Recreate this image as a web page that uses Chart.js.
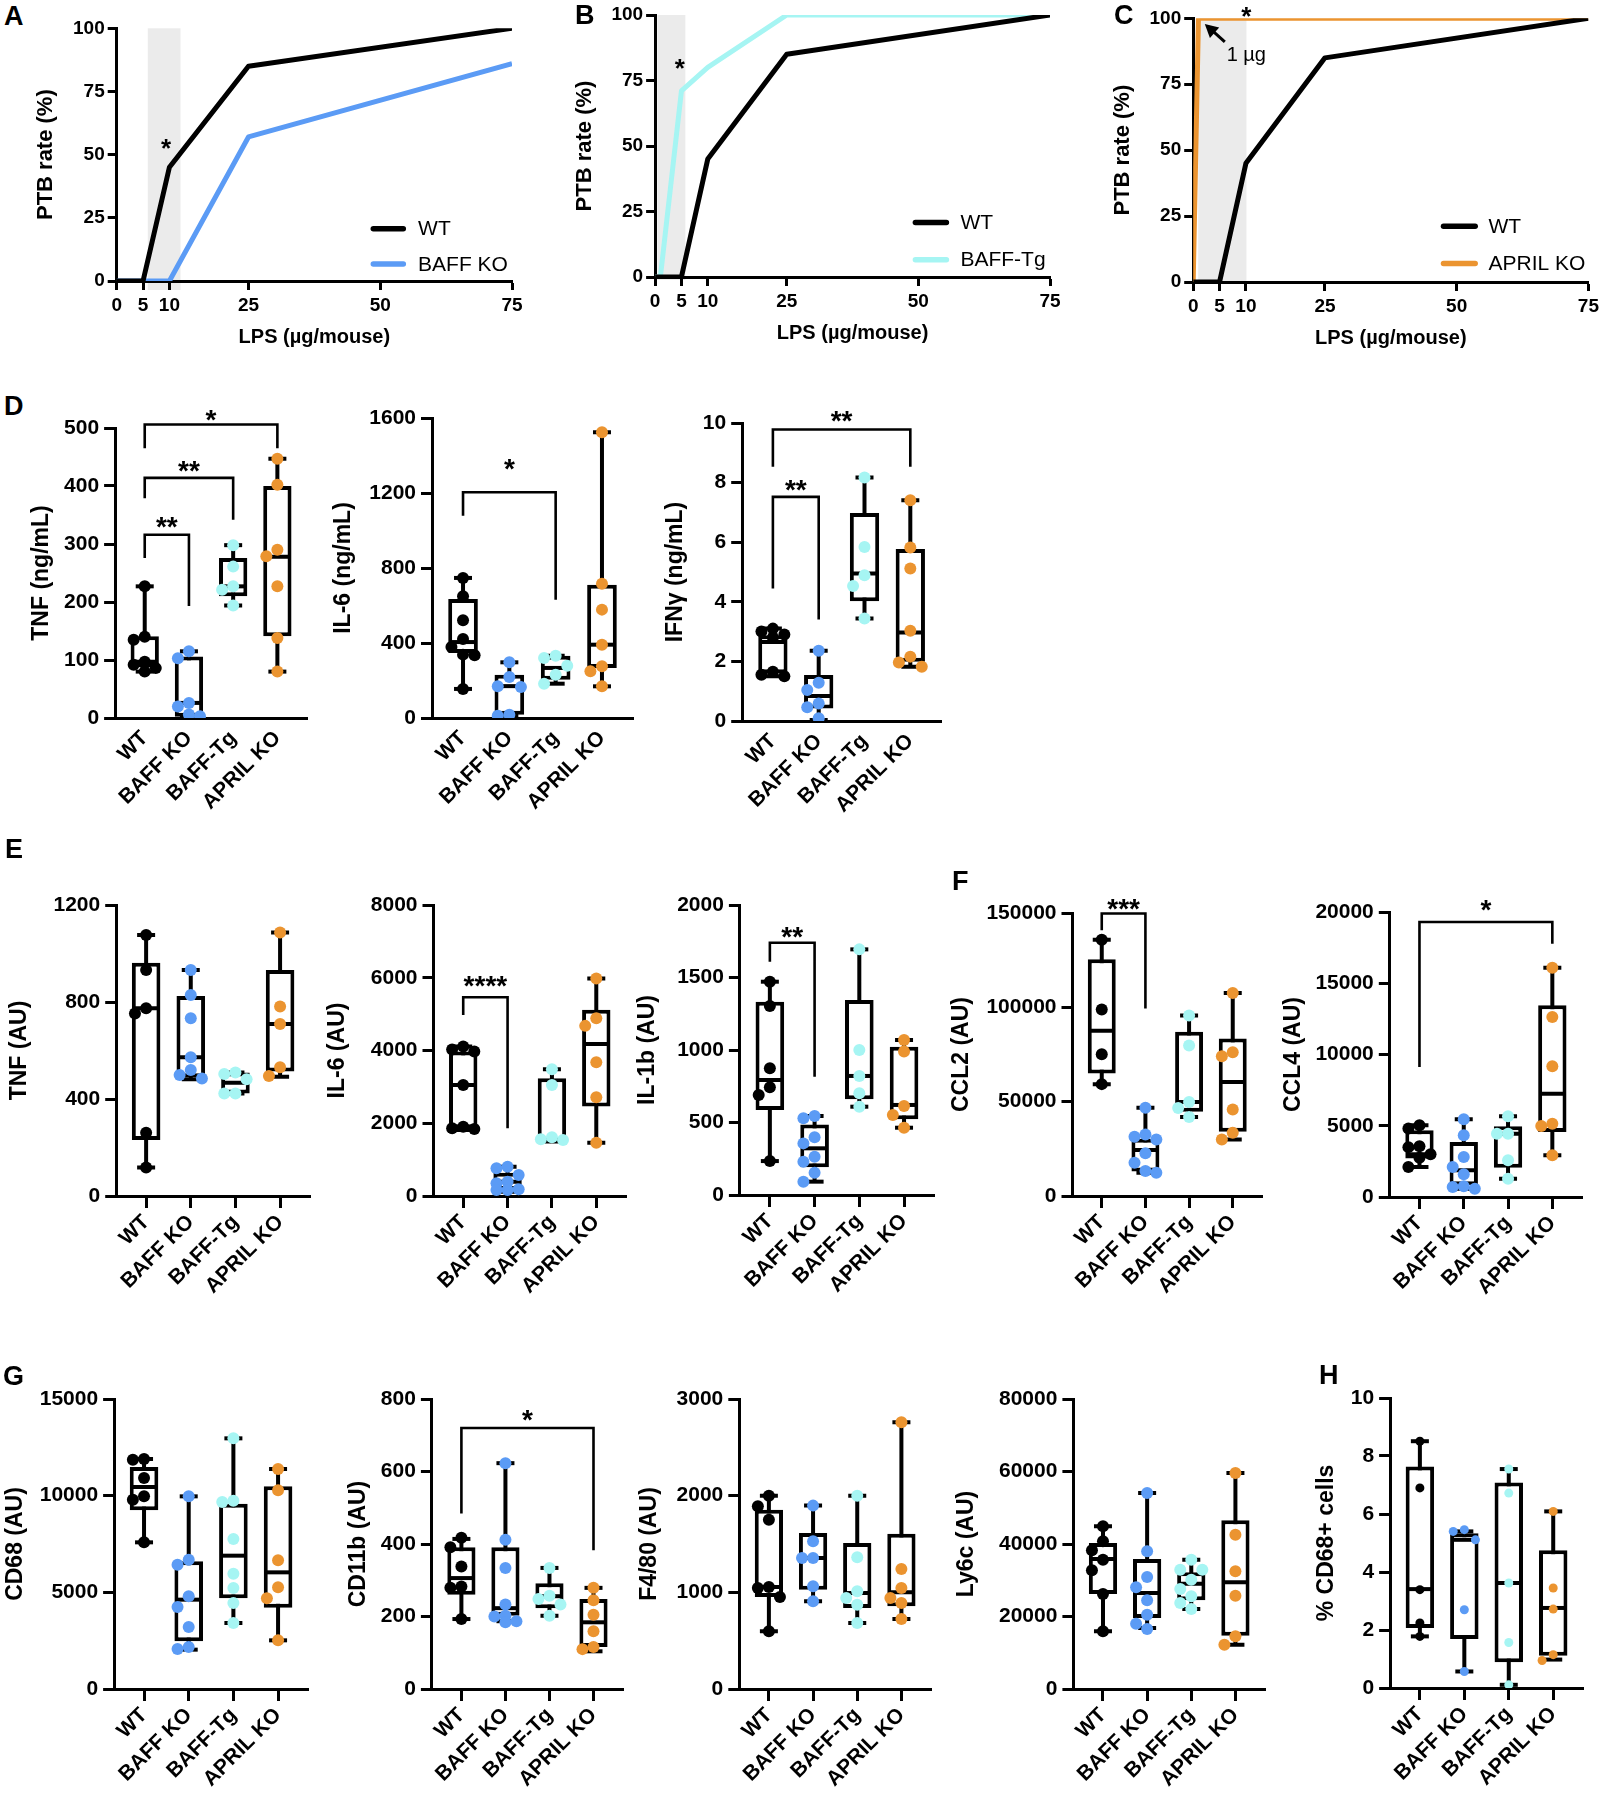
<!DOCTYPE html>
<html><head><meta charset="utf-8">
<script src="https://cdn.jsdelivr.net/npm/chart.js@4.4.1/dist/chart.umd.min.js"></script>
<style>
html,body{margin:0;padding:0;background:#fff;}
#fig{position:relative;width:1603px;height:1800px;background:#fff;overflow:hidden;}
canvas{position:absolute;}
.lt{position:absolute;font:bold 27px 'Liberation Sans',Arial,sans-serif;color:#000;line-height:1;}
</style></head><body><div id="fig"></div>
<script>
// ================= DATA =================
const groups = ['WT', 'BAFF KO', 'BAFF-Tg', 'APRIL KO'];

// Panels A-C: PTB rate (%) vs LPS dose (µg/mouse)
const lpsTicks = [0, 5, 10, 25, 50, 75];
const ptbTicks = [0, 25, 50, 75, 100];
const wtDose = [0, 5, 10, 25, 75];
const wtPTB = [0, 0, 45, 85, 100];
const baffKoDose = [0, 5, 10, 25, 75];
const baffKoPTB = [0, 0, 0, 57, 86];
const baffTgDose = [0, 1, 5, 10, 25, 75];
const baffTgPTB = [0, 0, 71, 80, 100, 100];
const aprilKoDose = [0, 1, 75];
const aprilKoPTB = [0, 100, 100];

// Box plots: [min, q1, median, q3, max] per group, plus individual points
// D
const dTnfBox = [[80, 88, 97, 141, 227], [0, 2, 26, 106, 115], [194, 210, 227, 276, 298], [80, 141, 278, 400, 447]];
const dTnfPts = [[227, 140, 135, 97, 92, 86, 80], [115, 103, 26, 20, 6, 3], [298, 261, 227, 221, 194], [447, 402, 290, 279, 227, 138, 80]];
const dTnfSig = [[0, 3, 506, 465, 465, '*', 526], [0, 2, 414, 379, 342, '**', 438], [0, 1, 316, 276, 193, '**', 341]];

const dIl6Box = [[155, 347, 405, 635, 747], [12, 18, 170, 231, 297], [183, 204, 267, 332, 332], [169, 267, 391, 711, 1524]];
const dIl6Pts = [[747, 650, 521, 421, 379, 338, 335, 155], [297, 219, 169, 165, 18, 12], [332, 320, 279, 231, 183], [1524, 716, 578, 391, 276, 249, 169]];
const dIl6Sig = [[0, 2, 1204, 1079, 631, '*', 1369]];

const dIfnBox = [[1.5, 1.6, 2.65, 2.88, 3.1], [0.03, 0.42, 0.84, 1.54, 2.36], [3.44, 4.02, 4.95, 6.98, 8.17], [1.82, 1.99, 2.97, 5.77, 7.41]];
const dIfnPts = [[3.1, 3.0, 2.9, 2.8, 1.65, 1.55, 1.5], [2.36, 1.28, 1.04, 0.59, 0.46, 0.09], [8.17, 5.84, 4.89, 4.53, 3.44], [7.41, 5.82, 5.12, 3.03, 2.16, 1.96, 1.82]];
const dIfnSig = [[0, 3, 9.78, 8.53, 8.53, '**', 10.31], [0, 1, 7.52, 4.45, 3.41, '**', 7.99]];

// E
const eTnfBox = [[118, 231, 774, 962, 1076], [481, 490, 572, 825, 932], [423, 423, 467, 509, 509], [492, 513, 709, 932, 1087]];
const eTnfPts = [[1076, 932, 774, 753, 261, 118], [932, 829, 733, 572, 520, 499, 485], [509, 503, 481, 423, 423], [1087, 781, 709, 531, 495]];

const eIl6Box = [[1816, 1862, 3054, 3971, 4108], [119, 165, 394, 642, 807], [1495, 1495, 1541, 3237, 3485], [1467, 2458, 4182, 5117, 5977]];
const eIl6Pts = [[4108, 4030, 3971, 3054, 1907, 1862, 1840], [807, 761, 578, 394, 348, 183, 165, 165], [3485, 3054, 1614, 1559, 1541], [5977, 4888, 4677, 3677, 2714, 1467]];
const eIl6Sig = [[0, 1, 5462, 4976, 1860, '****', 5984]];

const eIl1bBox = [[234, 586, 793, 1333, 1471], [92, 191, 322, 487, 545], [609, 660, 821, 1345, 1694], [464, 522, 621, 1023, 1069]];
const eIl1bPts = [[1471, 1303, 874, 743, 690, 234], [545, 529, 398, 356, 264, 230, 154, 92], [1694, 1000, 821, 701, 609], [1069, 989, 614, 552, 464]];
const eIl1bSig = [[0, 1, 1740, 1609, 816, '**', 1832]];

// F
const fCcl2Box = [[59294, 64941, 87529, 125470, 135882], [12300, 13000, 24400, 30400, 46800], [41824, 44650, 49770, 87000, 95650], [30000, 34060, 60360, 83470, 107650]];
const fCcl2Pts = [[135882, 98823, 75176, 59294], [46800, 32600, 31400, 30000, 22600, 17600, 13200, 12300], [95650, 79770, 49770, 46590, 41824], [107650, 76240, 74120, 45880, 33530, 30000]];
const fCcl2Sig = [[0, 1, 149700, 140900, 99400, '***', 156000]];

const fCcl4Box = [[2100, 2700, 3000, 4680, 5030], [585, 819, 1871, 3860, 5450], [1286, 2058, 4444, 4959, 5660], [2924, 4561, 7251, 13449, 16092]];
const fCcl4Pts = [[5030, 4800, 3560, 3500, 3000, 2760, 2100], [5450, 4327, 2807, 2105, 1590, 749, 702, 585], [5660, 4444, 4444, 2573, 1286], [16092, 12631, 9169, 5146, 4982, 2924]];
const fCcl4Sig = [[0, 3, 19300, 9120, 17780, '*', 20630]];

// G
const gCd68Box = [[7586, 9241, 10448, 11482, 11896], [2035, 2466, 4621, 6603, 9965], [3414, 4690, 6896, 9586, 12965], [2517, 4207, 6034, 10482, 11379]];
const gCd68Pts = [[11896, 11862, 10913, 9965, 9793, 7586], [9965, 6689, 6431, 4793, 4241, 3207, 2172, 2069], [12965, 9741, 9672, 7758, 5965, 5224, 4448, 3414], [11379, 10276, 6655, 5258, 4690, 2517]];

const gCd11bBox = [[193, 260, 306, 391, 414], [187, 202, 223, 391, 623], [202, 223, 256, 292, 334], [104, 116, 184, 248, 279]];
const gCd11bPts = [[417, 391, 338, 283, 279, 193], [623, 412, 334, 233, 202, 200, 187, 184], [334, 257, 248, 233, 202], [279, 245, 205, 159, 116, 110]];
const gCd11bSig = [[0, 3, 720, 484, 383, '*', 761]];

const gF480Box = [[597, 952, 1055, 1855, 2000], [907, 1028, 1355, 1614, 1897], [683, 838, 993, 1510, 2000], [724, 855, 1000, 1607, 2759]];
const gF480Pts = [[2000, 1890, 1752, 1055, 1045, 952, 597], [1897, 1528, 1355, 1355, 1062, 907], [2000, 1362, 1010, 941, 872, 683], [2759, 1241, 1045, 941, 890, 724]];

const gLy6cBox = [[15908, 26206, 35860, 40273, 44871], [16827, 19586, 26482, 35860, 54067], [22068, 24459, 29056, 32182, 35676], [12229, 14712, 29424, 46527, 59584]];
const gLy6cPts = [[44871, 40734, 38251, 35676, 32734, 26206, 15908], [54067, 37975, 30895, 28045, 24459, 20505, 18022, 16551], [35676, 32918, 32918, 30160, 27585, 25562, 23723, 22068], [59584, 42573, 32458, 25746, 14528, 12229]];

// H
const hCd68Box = [[1.78, 2.07, 3.41, 7.64, 8.51], [0.57, 1.69, 5.11, 5.34, 5.40], [0.11, 0.89, 3.62, 7.09, 7.55], [0.98, 1.11, 2.76, 4.75, 6.09]];
const hCd68Pts = [[8.51, 6.90, 3.39, 2.24, 1.78], [5.46, 5.40, 5.11, 2.70, 0.57], [7.55, 6.72, 3.62, 1.57, 0.11], [6.09, 3.45, 2.72, 1.15, 0.95]];

// ================= STYLE / LAYOUT =================
const FONT = "'Liberation Sans', Arial, sans-serif";
Chart.defaults.font.family = FONT;
Chart.defaults.color = '#000';
const groupColors = ['#000000', '#5b9bf5', '#a6f5f3', '#eb9430'];

function makeCanvas(left, top, w, h) {
  const c = document.createElement('canvas');
  c.width = Math.round(w); c.height = Math.round(h);
  c.style.left = left + 'px'; c.style.top = top + 'px';
  c.style.width = Math.round(w) + 'px'; c.style.height = Math.round(h) + 'px';
  document.getElementById('fig').appendChild(c);
  return c;
}

function drawStar(ctx, text, x, cy, fs) {
  ctx.save();
  ctx.fillStyle = '#000';
  ctx.font = 'bold ' + fs + 'px ' + FONT;
  ctx.textAlign = 'center';
  ctx.textBaseline = 'alphabetic';
  ctx.fillText(text, x, cy + 0.58 * fs);
  ctx.restore();
}

// ---------- line charts ----------
const lineDecor = {
  id: 'lineDecor',
  beforeDraw(chart, args, o) {
    if (!o.band) return;
    const {ctx, chartArea, scales: {x}} = chart;
    ctx.save();
    ctx.fillStyle = '#ebebeb';
    const x0 = x.getPixelForValue(o.band[0]), x1 = x.getPixelForValue(o.band[1]);
    ctx.fillRect(x0, chartArea.top, x1 - x0, chartArea.bottom - chartArea.top + (o.bandExt || 0));
    ctx.restore();
  },
  afterDraw(chart, args, o) {
    const {ctx, chartArea, scales: {x, y}} = chart;
    const L = o.legend;
    chart.data.datasets.forEach((ds, k) => {
      const yy = chartArea.bottom + L.ys[k];
      ctx.save();
      ctx.strokeStyle = ds.borderColor; ctx.lineWidth = 5.5; ctx.lineCap = 'round';
      ctx.beginPath(); ctx.moveTo(chartArea.left + L.x0, yy); ctx.lineTo(chartArea.left + L.x1, yy); ctx.stroke();
      ctx.fillStyle = '#000'; ctx.font = '21px ' + FONT; ctx.textBaseline = 'middle'; ctx.textAlign = 'left';
      ctx.fillText(ds.label, chartArea.left + L.tx, yy + 1);
      ctx.restore();
    });
    (o.stars || []).forEach(s => drawStar(ctx, s[2], x.getPixelForValue(s[0]), y.getPixelForValue(s[1]), 26));
    if (o.note) {
      const n = o.note;
      ctx.save();
      ctx.fillStyle = '#000'; ctx.font = '20px ' + FONT; ctx.textBaseline = 'middle'; ctx.textAlign = 'left';
      ctx.fillText(n.text, x.getPixelForValue(n.at[0]), y.getPixelForValue(n.at[1]));
      const tx = x.getPixelForValue(n.from[0]), ty = y.getPixelForValue(n.from[1]);
      const hx = x.getPixelForValue(n.to[0]), hy = y.getPixelForValue(n.to[1]);
      const ang = Math.atan2(hy - ty, hx - tx);
      const hl = 13, hw = 7;
      ctx.strokeStyle = '#000'; ctx.lineWidth = 3;
      ctx.beginPath(); ctx.moveTo(tx, ty);
      ctx.lineTo(hx - Math.cos(ang) * hl * 0.8, hy - Math.sin(ang) * hl * 0.8); ctx.stroke();
      ctx.beginPath();
      ctx.moveTo(hx, hy);
      ctx.lineTo(hx - Math.cos(ang) * hl - Math.sin(ang) * hw, hy - Math.sin(ang) * hl + Math.cos(ang) * hw);
      ctx.lineTo(hx - Math.cos(ang) * hl + Math.sin(ang) * hw, hy - Math.sin(ang) * hl - Math.cos(ang) * hw);
      ctx.closePath(); ctx.fill();
      ctx.restore();
    }
  }
};

function lineChart(p) {
  const lh = 22 * 1.2;
  const left = p.tx - lh / 2;
  const top = 0;
  const padR = p.padR || 26;
  const xH = 68;
  const w = p.rect[2] + padR - left;
  const h = p.rect[3] + xH - top;
  const yW = p.rect[0] - left;
  const cv = makeCanvas(left, top, w, h);
  new Chart(cv, {
    type: 'scatter',
    data: {
      datasets: p.series.map((s, k) => ({
        label: s.label,
        data: s.x.map((xv, i) => ({x: xv, y: s.y[i]})),
        showLine: true, borderColor: s.color, backgroundColor: s.color, borderWidth: 5,
        pointRadius: 0, borderJoinStyle: 'round', borderCapStyle: 'butt', order: k
      }))
    },
    plugins: [lineDecor],
    options: {
      responsive: false, animation: false, events: [],
      layout: {padding: {top: p.rect[1] - top, right: padR, left: 0, bottom: 0}},
      plugins: {legend: {display: false}, tooltip: {enabled: false}, lineDecor: p.decor},
      scales: {
        x: {
          type: 'linear', min: 0, max: 75,
          afterBuildTicks: s => { s.ticks = lpsTicks.map(v => ({value: v})); },
          afterFit: s => { s.height = xH; },
          grid: {drawOnChartArea: false, drawTicks: true, tickLength: 9, tickWidth: 3, tickColor: '#000'},
          border: {display: true, width: 3, color: '#000'},
          ticks: {autoSkip: false, maxRotation: 0, padding: 4, color: '#000', font: {size: 19, weight: 'bold'}},
          title: {display: true, text: 'LPS (µg/mouse)', color: '#000', font: {size: 20, weight: 'bold'}, padding: 0}
        },
        y: {
          min: 0, max: 100,
          afterBuildTicks: s => { s.ticks = ptbTicks.map(v => ({value: v})); },
          afterFit: s => { s.width = yW; },
          grid: {drawOnChartArea: false, drawTicks: true, tickLength: 9, tickWidth: 3, tickColor: '#000'},
          border: {display: true, width: 3, color: '#000'},
          ticks: {padding: 3, color: '#000', font: {size: 19, weight: 'bold'}},
          title: {display: true, text: 'PTB rate (%)', color: '#000', font: {size: 22, weight: 'bold'}, padding: 0}
        }
      }
    }
  });
}

lineChart({
  rect: [117, 28.3, 512, 281], tx: 46.5,
  series: [{label: 'WT', x: wtDose, y: wtPTB, color: '#000000'}, {label: 'BAFF KO', x: baffKoDose, y: baffKoPTB, color: '#5b9bf5'}],
  decor: {band: [5.9, 12.1], bandExt: 9, legend: {x0: 256.6, x1: 286.6, ys: [-52.3, -17], tx: 301.4}, stars: [[9.36, 55, '*']]}
});
lineChart({
  rect: [654.7, 15, 1049.6, 277.3], tx: 584.8,
  series: [{label: 'WT', x: wtDose, y: wtPTB, color: '#000000'}, {label: 'BAFF-Tg', x: baffTgDose, y: baffTgPTB, color: '#a6f5f3'}],
  decor: {band: [0.45, 5.75], bandExt: 3, legend: {x0: 260.3, x1: 291.3, ys: [-54.6, -17.3], tx: 305.3}, stars: [[4.7, 82.2, '*']]}
});
lineChart({
  rect: [1193.3, 18.3, 1589, 281.7], tx: 1123.3, padR: 14,
  series: [{label: 'WT', x: wtDose, y: wtPTB, color: '#000000'}, {label: 'APRIL KO', x: aprilKoDose, y: aprilKoPTB, color: '#eb9430'}],
  decor: {band: [0.95, 10.1], legend: {x0: 250.3, x1: 282, ys: [-55.7, -18.4], tx: 295.3}, stars: [[10.1, 103.2, '*']],
    note: {text: '1 µg', at: [6.35, 85.8], from: [6.0, 91.1], to: [2.2, 97.8]}}
});

// ---------- box plot charts ----------
const sigBrackets = {
  id: 'sigBrackets',
  afterDatasetsDraw(chart, args, o) {
    const {ctx, scales: {x, y}} = chart;
    (o.items || []).forEach(b => {
      const x0 = x.getPixelForValue(b[0]), x1 = x.getPixelForValue(b[1]);
      const yl = y.getPixelForValue(b[2]);
      ctx.save();
      ctx.strokeStyle = '#000'; ctx.lineWidth = 2.6; ctx.lineCap = 'butt'; ctx.lineJoin = 'miter';
      ctx.beginPath();
      ctx.moveTo(x0, y.getPixelForValue(b[3])); ctx.lineTo(x0, yl); ctx.lineTo(x1, yl); ctx.lineTo(x1, y.getPixelForValue(b[4]));
      ctx.stroke();
      ctx.restore();
      drawStar(ctx, b[5], (x0 + x1) / 2, y.getPixelForValue(b[6]), 28);
    });
  }
};

// greedy beeswarm, kept within the box width
function jitter(vals, yMax) {
  const sorted = vals.map((v, i) => ({v, i})).sort((a, b) => b.v - a.v);
  const dy = yMax * 0.038;
  const cands = [0, -0.25, 0.25, -0.125, 0.125];
  const out = new Array(vals.length).fill(0);
  const placed = [];
  sorted.forEach(p => {
    let best = null;
    for (const c of cands) {
      const clash = placed.some(q => Math.abs(q.v - p.v) < dy && Math.abs(q.o - c) < 0.2);
      if (!clash) { best = c; break; }
    }
    if (best === null) {
      // least crowded candidate
      let bestN = Infinity;
      for (const c of cands) {
        const n = placed.filter(q => Math.abs(q.v - p.v) < dy && Math.abs(q.o - c) < 0.2).length;
        if (n < bestN) { bestN = n; best = c; }
      }
    }
    out[p.i] = best;
    placed.push({v: p.v, o: best});
  });
  return out;
}

function boxChart(p) {
  const lh = 23 * 1.2;
  const left = p.tx - lh / 2;
  const top = p.rect[1] - 50;
  const padR = 22;
  const xH = 140;
  const w = p.rect[2] + padR - left;
  const h = p.rect[3] + xH - top;
  const yW = p.rect[0] - left;
  const cv = makeCanvas(left, top, w, h);
  const spacing = c => { const s = c.chart.scales.x; return Math.abs(s.getPixelForValue(1) - s.getPixelForValue(0)); };
  const ptsData = [], ptsCol = [];
  p.pts.forEach((g, i) => {
    const j = jitter(g, p.max);
    g.forEach((v, k) => { ptsData.push({x: i + j[k], y: v}); ptsCol.push(groupColors[i]); });
  });
  const whisk = [];
  p.box.forEach((s, i) => { whisk.push({x: i, y: s[0]}, {x: i, y: s[4]}, {x: NaN, y: NaN}); });
  const LW = 4;
  new Chart(cv, {
    type: 'bar',
    data: {
      datasets: [
        {type: 'scatter', label: 'points', data: ptsData, pointBackgroundColor: ptsCol, pointBorderWidth: 0, pointRadius: p.r || 6, order: 0},
        {type: 'scatter', label: 'median', data: p.box.map((s, i) => ({x: i, y: s[2]})), pointStyle: 'line', pointBorderColor: '#000', pointBorderWidth: LW, pointRadius: c => spacing(c) * 0.32 - 2, order: 1},
        {type: 'scatter', label: 'caps', data: p.box.flatMap((s, i) => [{x: i, y: s[0]}, {x: i, y: s[4]}]), pointStyle: 'line', pointBorderColor: '#000', pointBorderWidth: LW, pointRadius: 9, order: 2},
        {type: 'bar', label: 'box', data: p.box.map((s, i) => ({x: i, y: [s[1], s[3]]})), backgroundColor: '#fff', borderColor: '#000', borderWidth: LW, borderSkipped: false, grouped: false, categoryPercentage: 1, barPercentage: 0.64, order: 3},
        {type: 'scatter', label: 'whisker', data: whisk, showLine: true, spanGaps: false, borderColor: '#000', borderWidth: LW, pointRadius: 0, order: 4}
      ]
    },
    plugins: [sigBrackets],
    options: {
      responsive: false, animation: false, events: [],
      layout: {padding: {top: 50, right: padR, left: 0, bottom: 0}},
      plugins: {legend: {display: false}, tooltip: {enabled: false}, sigBrackets: {items: p.sig || []}},
      scales: {
        x: {
          type: 'linear', min: -0.67, max: 3.67, offset: false,
          afterBuildTicks: s => { s.ticks = groups.map((g, i) => ({value: i})); },
          afterFit: s => { s.height = xH; },
          grid: {drawOnChartArea: false, drawTicks: p.xTicks, tickLength: 12, tickWidth: 3, tickColor: '#000', offset: false},
          border: {display: true, width: 3, color: '#000'},
          ticks: {autoSkip: false, minRotation: 45, maxRotation: 45, padding: p.xTicks ? 2 : 8, color: '#000', font: {size: 21, weight: 'bold'}, callback: v => groups[v]}
        },
        y: {
          min: 0, max: p.max,
          afterFit: s => { s.width = yW; },
          grid: {drawOnChartArea: false, drawTicks: true, tickLength: 11, tickWidth: 3, tickColor: '#000'},
          border: {display: true, width: 3, color: '#000'},
          ticks: {stepSize: p.step, padding: 5, color: '#000', font: {size: 21, weight: 'bold'}, callback: v => String(v)},
          title: {display: true, text: p.title, color: '#000', font: {size: 23, weight: 'bold'}, padding: 0}
        }
      }
    }
  });
}

const boxPanels = [
  {box: dTnfBox, pts: dTnfPts, sig: dTnfSig, title: 'TNF (ng/mL)', max: 500, step: 100, rect: [115, 428.3, 307, 718.3], tx: 41.7, xTicks: false},
  {box: dIl6Box, pts: dIl6Pts, sig: dIl6Sig, title: 'IL-6 (ng/mL)', max: 1600, step: 400, rect: [432, 418.3, 632.5, 718.3], tx: 343.8, xTicks: false},
  {box: dIfnBox, pts: dIfnPts, sig: dIfnSig, title: 'IFNγ (ng/mL)', max: 10, step: 2, rect: [742.4, 422.7, 940.9, 721], tx: 676, xTicks: false},
  {box: eTnfBox, pts: eTnfPts, title: 'TNF (AU)', max: 1200, step: 400, rect: [116, 905, 310, 1196], tx: 19.6, xTicks: true},
  {box: eIl6Box, pts: eIl6Pts, sig: eIl6Sig, title: 'IL-6 (AU)', max: 8000, step: 2000, rect: [433.2, 905, 626, 1196], tx: 337.5, xTicks: true},
  {box: eIl1bBox, pts: eIl1bPts, sig: eIl1bSig, title: 'IL-1b (AU)', max: 2000, step: 500, rect: [739.6, 905, 933.2, 1195], tx: 647.5, xTicks: true},
  {box: fCcl2Box, pts: fCcl2Pts, sig: fCcl2Sig, title: 'CCL2 (AU)', max: 150000, step: 50000, rect: [1072.5, 912.7, 1261.7, 1196], tx: 961.8, xTicks: true},
  {box: fCcl4Box, pts: fCcl4Pts, sig: fCcl4Sig, title: 'CCL4 (AU)', max: 20000, step: 5000, rect: [1389.3, 911.7, 1581.7, 1196.7], tx: 1293.3, xTicks: true},
  {box: gCd68Box, pts: gCd68Pts, title: 'CD68 (AU)', max: 15000, step: 5000, rect: [114.3, 1399.3, 307.9, 1689.3], tx: 16, xTicks: true},
  {box: gCd11bBox, pts: gCd11bPts, sig: gCd11bSig, title: 'CD11b (AU)', max: 800, step: 200, rect: [432.1, 1399.3, 623.4, 1689.3], tx: 359, xTicks: true},
  {box: gF480Box, pts: gF480Pts, title: 'F4/80 (AU)', max: 3000, step: 1000, rect: [739, 1399.3, 931, 1689.3], tx: 649.5, xTicks: true},
  {box: gLy6cBox, pts: gLy6cPts, title: 'Ly6c (AU)', max: 80000, step: 20000, rect: [1072.9, 1399.3, 1264.8, 1689.3], tx: 966.3, xTicks: true},
  {box: hCd68Box, pts: hCd68Pts, title: '% CD68+ cells', max: 10, step: 2, rect: [1390, 1398.3, 1583.3, 1688.3], tx: 1326.7, xTicks: true, r: 4.5}
];
boxPanels.forEach(boxChart);

// panel letters
[['A', 4, 3], ['B', 575, 1.5], ['C', 1114, 1.5], ['D', 4, 393], ['E', 5, 836], ['F', 952, 868], ['G', 3, 1363], ['H', 1319, 1361.5]]
  .forEach(([t, x, y]) => {
    const d = document.createElement('div');
    d.className = 'lt'; d.textContent = t; d.style.left = x + 'px'; d.style.top = y + 'px';
    document.getElementById('fig').appendChild(d);
  });
</script></body></html>
